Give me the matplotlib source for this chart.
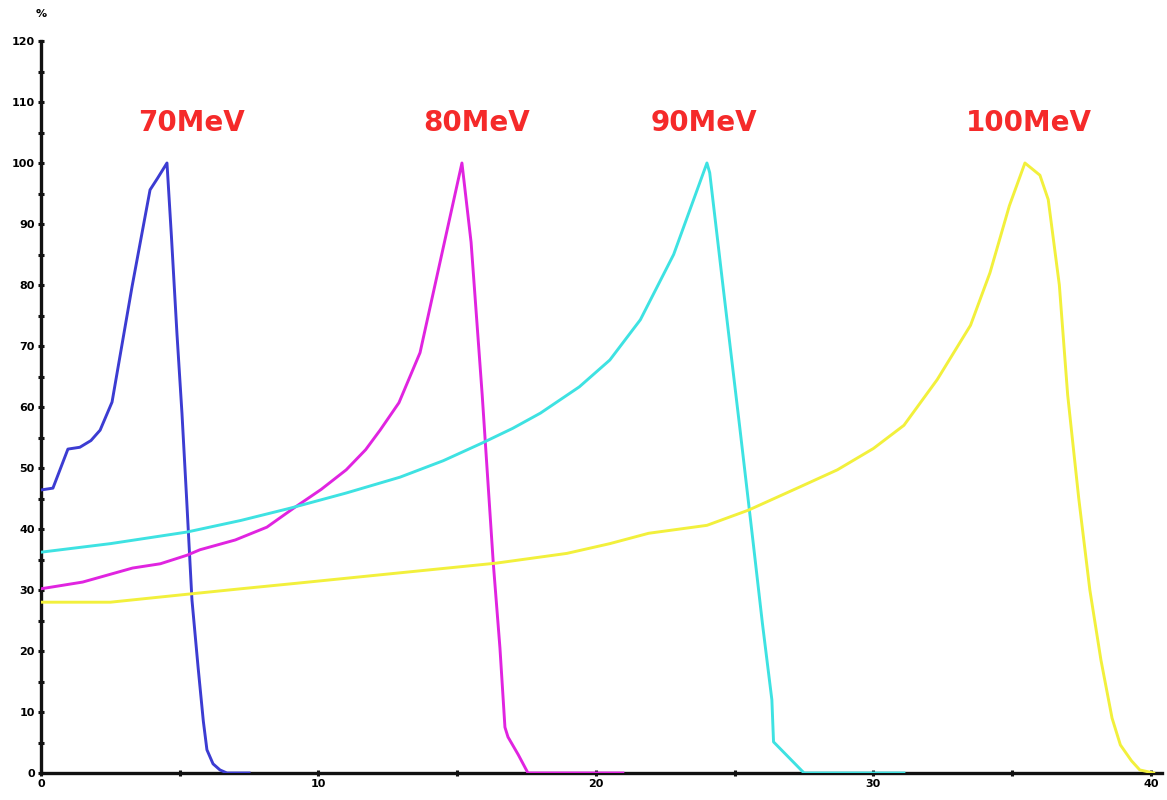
import matplotlib
matplotlib.use("Agg")
import matplotlib.pyplot as plt
from matplotlib.ticker import MultipleLocator

# Depth-dose curves (depth in cm, relative dose in %)
x70 = [0.0, 0.43, 0.97, 1.4, 1.8, 2.13, 2.56, 3.28, 3.93, 4.2, 4.54, 4.7, 4.9, 5.08,
       5.25, 5.44, 5.66, 5.85, 5.98, 6.2, 6.45, 6.7, 7.5]
y70 = [46.4, 46.7, 53.1, 53.4, 54.5, 56.2, 60.8, 79.7, 95.6, 97.5, 100.0, 88.0, 72.0, 59.0,
       44.8, 28.4, 17.4, 8.5, 3.8, 1.5, 0.5, 0.0, 0.0]

x80 = [0.0, 1.5, 3.3, 4.3, 5.26, 5.73, 7.0, 8.14, 9.1, 10.1, 11.0, 11.7, 12.22, 12.9, 13.66,
       15.17, 15.5, 15.9, 16.3, 16.54, 16.72, 16.83, 17.2, 17.55, 20.97]
y80 = [30.2, 31.3, 33.6, 34.3, 35.7, 36.6, 38.2, 40.3, 43.4, 46.5, 49.7, 53.0, 56.2, 60.7,
       68.9, 100.0, 87.0, 62.0, 34.4, 20.5, 7.5, 5.9, 3.0, 0.0, 0.0]

x90 = [0.0, 2.5, 5.26, 7.2, 8.97, 11.0, 12.94, 14.5, 15.9, 17.0, 18.0, 19.4, 20.5, 21.6,
       22.8, 24.0, 24.1, 24.6, 25.2, 25.66, 26.0, 26.34, 26.4, 27.5, 31.1]
y90 = [36.2, 37.6, 39.5, 41.4, 43.4, 45.9, 48.5, 51.2, 54.1, 56.5, 59.0, 63.3, 67.7, 74.3,
       85.0, 100.0, 98.4, 79.0, 56.0, 38.0, 24.5, 12.0, 5.1, 0.0, 0.0]

x100 = [0.0, 2.5, 5.26, 7.2, 9.2, 12.9, 16.4, 18.95, 20.5, 21.9, 24.0, 25.5, 27.35, 28.7,
        30.0, 31.1, 32.3, 33.5, 34.2, 34.9, 35.46, 36.0, 36.3, 36.7, 37.0, 37.4, 37.8, 38.2,
        38.6, 38.9, 39.3, 39.6, 40.1]
y100 = [28.0, 28.0, 29.3, 30.2, 31.1, 32.8, 34.4, 36.0, 37.6, 39.3, 40.6, 43.1, 46.9, 49.7,
        53.2, 57.0, 64.5, 73.4, 82.0, 93.0, 100.0, 98.0, 94.0, 80.0, 62.0, 45.0, 30.0, 18.5,
        9.0, 4.6, 2.0, 0.5, 0.0]

labels = ["70MeV", "80MeV", "90MeV", "100MeV"]
label_x = [5.44, 15.7, 23.9, 35.6]
label_y = 106.6

series = [(x70, y70, "#3c3cd2"), (x80, y80, "#e024e0"),
          (x90, y90, "#3ee2e2"), (x100, y100, "#f2f03c")]

fig = plt.figure(figsize=(11.67, 8.0), dpi=100)
ax = fig.add_axes([41 / 1167, 27 / 800, 1121 / 1167, 732 / 800])

for xs, ys, c in series:
    ax.plot(xs, ys, color=c, lw=2.1, solid_joinstyle="round", zorder=3)

for lab, lx in zip(labels, label_x):
    ax.text(lx, label_y, lab, color="#f52a2a", fontsize=20, fontweight="bold",
            ha="center", va="center", family="DejaVu Sans")

ax.set_xlim(0, 40.4)
ax.set_ylim(0, 120)
ax.xaxis.set_major_locator(MultipleLocator(10))
ax.xaxis.set_minor_locator(MultipleLocator(5))
ax.yaxis.set_major_locator(MultipleLocator(10))
ax.yaxis.set_minor_locator(MultipleLocator(5))

for side in ("top", "right"):
    ax.spines[side].set_visible(False)
for side in ("left", "bottom"):
    ax.spines[side].set_linewidth(2.4)
    ax.spines[side].set_color("#111111")
    ax.spines[side].set_zorder(2)

ax.tick_params(which="both", direction="inout", length=5, width=2.2, color="#111111",
               labelsize=8, pad=2)
for lbl in ax.get_xticklabels() + ax.get_yticklabels():
    lbl.set_fontweight("bold")

ax.text(0.0, 124.5, "%", fontsize=8, fontweight="bold", ha="center", va="center",
        clip_on=False)

fig.savefig("out.png", dpi=100)
